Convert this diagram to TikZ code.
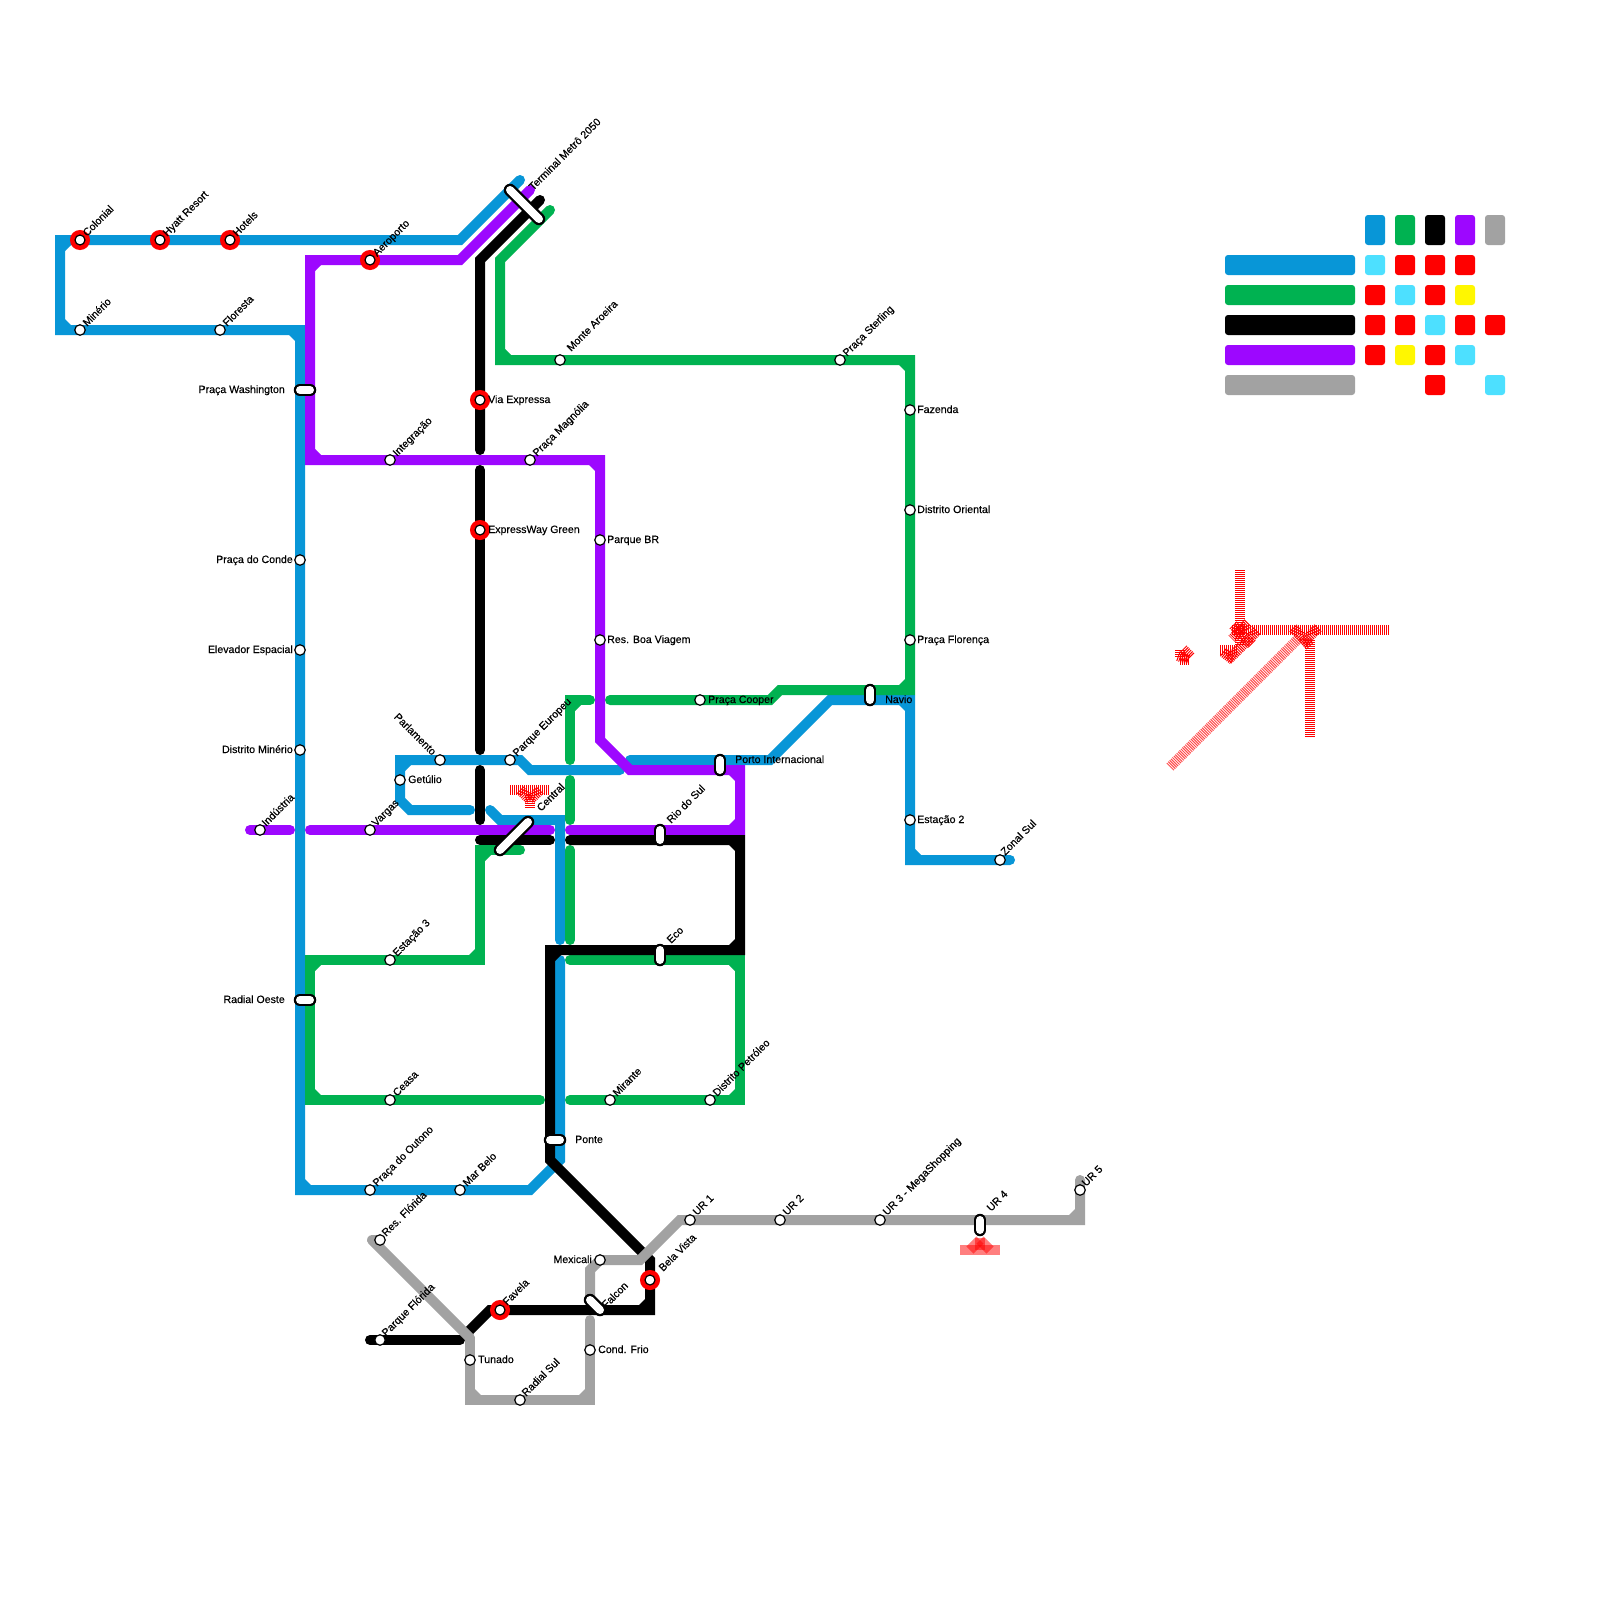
\documentclass[tikz,border=0pt]{standalone}
\usepackage{fontspec}
\setmainfont{Liberation Sans}[FakeBold=0.35]
\definecolor{lblue}{HTML}{0896D7}
\definecolor{lgreen}{HTML}{00B251}
\definecolor{lpurple}{HTML}{9D07FF}
\definecolor{lgray}{HTML}{A2A2A2}
\definecolor{lcyan}{HTML}{4DE0FF}
\definecolor{lyellow}{HTML}{FFF700}
\tikzset{
  mline/.style={line width=10pt,line cap=round,line join=miter,miter limit=4},
  stn/.style={circle,draw=black,line width=1.2pt,fill=white,minimum size=10.5pt,inner sep=0pt},
  hub/.style={circle,draw=red,line width=5pt,fill=white,minimum size=15pt,inner sep=0pt},
  hubin/.style={circle,draw=black,line width=1.2pt,fill=white,minimum size=10pt,inner sep=0pt},
  pillb/.style={line width=12.5pt,line cap=round,black},
  pillw/.style={line width=8pt,line cap=round,white},
  lab/.style={inner sep=0pt,font=\fontsize{10.6}{12}\selectfont},
  labr/.style={lab,anchor=base west,rotate=45},
  labh/.style={lab,anchor=base west},
  labl/.style={lab,anchor=base east},
  labm/.style={lab,anchor=base east,rotate=-45},
  hatch/.style={red,line width=10pt,dash pattern=on 1pt off 1pt},
  lsq/.style={rounded corners=3pt,draw=none},
}
\newcommand\cham[4]{\fill ({#1+5*(#3)},{#2+5*(#4)}) -- ({#1+11*(#3)},{#2+5*(#4)}) -- ({#1+5*(#3)},{#2+11*(#4)}) -- cycle;}
\newcommand\pill[5]{\coordinate (#1-a) at (#2,#3);\coordinate (#1-b) at (#4,#5);
  \draw[pillb] (#1-a) -- (#1-b);\draw[pillw] (#1-a) -- (#1-b);}
\newcommand\lsquare[4]{\fill[lsq,#1] (#2,#3) rectangle ++(20,#4);}
\begin{document}
\begin{tikzpicture}[x=1pt,y=-1pt]
\useasboundingbox (0,0) rectangle (1600,1600);
\fill[white] (0,0) rectangle (1600,1600);
% station positions
\foreach \n/\x/\y in {colonial/80/240,hyatt/160/240,hoteis/230/240,minerio/80/330,floresta/220/330,
  conde/300/560,elevador/300/650,dminerio/300/750,outono/370/1190,marbelo/460/1190,
  parlamento/440/760,peuropeu/510/760,getulio/400/780,estacao2/910/820,zonal/1000/860,
  aeroporto/370/260,integracao/390/460,magnolia/530/460,parquebr/600/540,boaviagem/600/640,
  industria/260/830,vargas/370/830,
  aroeira/560/360,sterling/840/360,fazenda/910/410,doriental/910/510,florenca/910/640,cooper/700/700,
  ceasa/390/1100,estacao3/390/960,mirante/610/1100,dpetroleo/710/1100,
  viaexp/480/400,expgreen/480/530,favela/500/1310,belavista/650/1280,pflorida/380/1340,
  resflorida/380/1240,tunado/470/1360,radialsul/520/1400,condfrio/590/1350,mexicali/600/1260,
  ur1/690/1220,ur2/780/1220,ur3/880/1220,ur5/1080/1190}
  {\coordinate (\n) at (\x,\y);}
% blue line
\begin{scope}[lblue]
\draw[mline] (520,180) -- (460,240) -- (hoteis) -- (hyatt) -- (colonial) -- (60,240) -- (60,330) -- (minerio) -- (floresta) -- (300,330) -- (conde) -- (elevador) -- (dminerio) -- (300,1190) -- (outono) -- (marbelo) -- (530,1190) -- (560,1160) -- (560,960);
\draw[mline] (620,770) -- (530,770) -- (520,760) -- (peuropeu) -- (parlamento) -- (400,760) -- (getulio) -- (400,800) -- (410,810) -- (470,810);
\draw[mline] (490,810) -- (500,820) -- (560,820) -- (560,940);
\draw[mline] (630,760) -- (770,760) -- (830,700) -- (910,700) -- (estacao2) -- (910,860) -- (zonal) -- (1010,860);
\cham{60}{240}{1}{1}\cham{60}{330}{1}{-1}\cham{300}{330}{-1}{1}\cham{300}{1190}{1}{-1}
\cham{400}{760}{1}{1}\cham{910}{860}{1}{-1}\cham{910}{700}{-1}{1}
\end{scope}
% green line
\begin{scope}[lgreen]
\draw[mline] (550,210) -- (500,260) -- (500,360) -- (aroeira) -- (sterling) -- (910,360) -- (fazenda) -- (doriental) -- (florenca) -- (910,690) -- (780,690) -- (770,700) -- (cooper) -- (610,700);
\draw[mline] (590,700) -- (570,700) -- (570,760);
\draw[mline] (570,780) -- (570,820);
\draw[mline] (570,850) -- (570,940);
\draw[mline] (520,850) -- (480,850) -- (480,960) -- (estacao3) -- (310,960) -- (310,1100) -- (ceasa) -- (540,1100);
\draw[mline] (570,960) -- (740,960) -- (740,1100) -- (dpetroleo) -- (mirante) -- (570,1100);
\cham{500}{360}{1}{-1}\cham{910}{360}{-1}{1}\cham{910}{690}{-1}{-1}\cham{570}{700}{1}{1}
\cham{480}{850}{1}{1}\cham{480}{960}{-1}{-1}\cham{310}{960}{1}{1}\cham{310}{1100}{1}{-1}
\cham{740}{960}{-1}{1}\cham{740}{1100}{-1}{-1}
\end{scope}
% purple line
\begin{scope}[lpurple]
\draw[mline] (530,190) -- (460,260) -- (aeroporto) -- (310,260) -- (310,460) -- (integracao) -- (magnolia) -- (600,460) -- (parquebr) -- (boaviagem) -- (600,740) -- (630,770) -- (740,770) -- (740,830) -- (570,830);
\draw[mline] (250,830) -- (industria) -- (290,830);
\draw[mline] (310,830) -- (vargas) -- (550,830);
\cham{310}{260}{1}{1}\cham{310}{460}{1}{-1}\cham{600}{460}{-1}{1}\cham{740}{770}{-1}{1}\cham{740}{830}{-1}{-1}
\end{scope}
% black line
\begin{scope}[black]
\draw[mline] (540,200) -- (480,260) -- (viaexp) -- (480,450);
\draw[mline] (480,470) -- (expgreen) -- (480,750);
\draw[mline] (480,770) -- (480,820);
\draw[mline] (480,840) -- (550,840);
\draw[mline] (570,840) -- (740,840) -- (740,950) -- (550,950) -- (550,1160) -- (650,1260) -- (belavista) -- (650,1310) -- (favela) -- (490,1310) -- (465,1335);
\draw[mline] (370,1340) -- (pflorida) -- (460,1340);
\cham{740}{840}{-1}{1}\cham{740}{950}{-1}{-1}\cham{550}{950}{1}{1}\cham{650}{1310}{-1}{-1}
\end{scope}
% gray line
\begin{scope}[lgray]
\draw[mline,line join=round] (resflorida) -- (372,1240) -- (470,1338);
\draw[mline] (470,1338) -- (tunado) -- (470,1400) -- (radialsul) -- (590,1400) -- (condfrio) -- (590,1320);
\draw[mline] (590,1300) -- (590,1270) -- (mexicali) -- (640,1260) -- (680,1220) -- (ur1) -- (ur2) -- (ur3) -- (1080,1220) -- (ur5) -- (1080,1180);
\cham{470}{1400}{1}{-1}\cham{590}{1400}{-1}{-1}\cham{1080}{1220}{-1}{-1}
\end{scope}
% red marks
\draw[hatch] (1240,570) -- (1240,625);
\draw[hatch] (1250,630) -- (1389,630);
\draw[hatch] (1310,640) -- (1310,738);
\draw[hatch,opacity=.7] (1170,767) -- (1300,637);
\draw[hatch] (1293,628) -- (1310,646);
\draw[hatch] (1318,628) -- (1302,644);
\draw[hatch] (1257,631) -- (1228,660);
\draw[hatch] (1233,625) -- (1252,644);
\draw[hatch] (1248,623) -- (1232,639);
\draw[hatch] (1232,630) -- (1255,630);
\draw[hatch] (1240,622) -- (1240,645);
\draw[hatch] (1220,650) -- (1237,650);
\draw[hatch] (1223,652) -- (1233,660);
\draw[hatch] (1180,650) -- (1180,658);
\draw[hatch] (1180,660) -- (1189,660);
\draw[hatch] (1178,656) -- (1189,660);
\draw[hatch] (1183,649) -- (1191,657);
\draw[hatch] (510,790) -- (549,790);
\draw[hatch] (530,795) -- (530,808);
\draw[hatch] (520,790) -- (530,800);
\draw[hatch] (540,790) -- (530,800);
\fill[red,opacity=.5] (960,1245) rectangle (1000,1255);
\draw[red,line width=10pt,opacity=.5] (980,1240) -- (970,1250);
\draw[red,line width=10pt,opacity=.5] (980,1240) -- (990,1250);
\draw[red,line width=10pt,opacity=.5] (980,1238) -- (980,1250);
% interchange bars
\pill{washington}{300}{390}{310}{390}
\pill{radialoeste}{300}{1000}{310}{1000}
\pill{terminal}{510}{190}{539}{219}
\pill{central}{500}{850}{528}{822}
\pill{riosul}{660}{830}{660}{840}
\pill{eco}{660}{950}{660}{960}
\pill{porto}{720}{760}{720}{770}
\pill{navio}{870}{690}{870}{700}
\pill{ponte}{550}{1140}{560}{1140}
\pill{falcon}{590}{1300}{600}{1310}
\pill{urfour}{980}{1220}{980}{1230}
% stations
\foreach \n in {minerio,floresta,conde,elevador,dminerio,outono,marbelo,parlamento,peuropeu,getulio,estacao2,zonal,
  integracao,magnolia,parquebr,boaviagem,industria,vargas,aroeira,sterling,fazenda,doriental,florenca,cooper,
  ceasa,estacao3,mirante,dpetroleo,pflorida,resflorida,tunado,radialsul,condfrio,mexicali,ur1,ur2,ur3,ur5}
  {\node[stn] (\n-st) at (\n) {};}
\foreach \n in {colonial,hyatt,hoteis,aeroporto,viaexp,expgreen,favela,belavista}
  {\node[hub] (\n-st) at (\n) {};\node[hubin] (\n-in) at (\n) {};}
% labels
\foreach \n/\dx/\dy/\t in {
  colonial/7/-3/Colonial,hyatt/7/-3/Hyatt Resort,hoteis/7/-3/Hotels,aeroporto/7/-3/Aeroporto,
  minerio/7/-3/Minério,floresta/7/-3/Floresta,integracao/7/-3/Integração,magnolia/7/-3/Praça Magnólia,
  aroeira/11/-8/Monte Aroeira,sterling/7/-3/Praça Sterling,peuropeu/7/-3/Parque Europeu,
  vargas/6/-3/Vargas,industria/6/-3/Indústria,estacao3/7/-3/Estação 3,ceasa/7/-3/Ceasa,
  mirante/7/-3/Mirante,dpetroleo/7/-3/Distrito Petróleo,outono/7/-3/Praça do Outono,marbelo/7/-3/Mar Belo,
  resflorida/6/-3/Res. Flórida,pflorida/6/-3/Parque Flórida,favela/7/-4/Favela,belavista/13/-8/Bela Vista,
  radialsul/6/-3/Radial Sul,ur1/7/-4/UR 1,ur2/7/-4/UR 2,ur3/7/-4/UR 3 - MegaShopping,ur5/6/-3/UR 5,zonal/5/-4/Zonal Sul}
  {\node[labr] (\n-l) at ([shift={(\dx,\dy)}]\n) {\t};}
\node[labr] (terminal-l) at (533,191) {Terminal Metrô 2050};
\node[labr] (central-l) at (541,812) {Central};
\node[labr] (riosul-l) at (671,824) {Rio do Sul};
\node[labr] (eco-l) at (671,944) {Eco};
\node[labr] (falcon-l) at (606,1309) {Falcon};
\node[labr] (urfour-l) at (991,1212) {UR 4};
\node[labm] (parlamento-l) at ([shift={(-8,-4)}]parlamento) {Parlamento};
\foreach \n/\dx/\dy/\t in {viaexp/8/3/Via Expressa,expgreen/8/3/ExpressWay Green,getulio/8/3/Getúlio,
  parquebr/7/3/Parque BR,boaviagem/7/3/Res. Boa Viagem,fazenda/7/3/Fazenda,doriental/7/3/Distrito Oriental,
  florenca/7/3/Praça Florença,cooper/8/3/Praça Cooper,estacao2/7/3/Estação 2,tunado/8/3/Tunado,condfrio/8/3/Cond. Frio}
  {\node[labh] (\n-l) at ([shift={(\dx,\dy)}]\n) {\t};}
\node[labh] (porto-l) at (735,763) {Porto Internacional};
\node[labh] (navio-l) at (885,703) {Navio};
\node[labh] (ponte-l) at (575,1143) {Ponte};
\foreach \n/\t in {conde/Praça do Conde,elevador/Elevador Espacial,dminerio/Distrito Minério}
  {\node[labl] (\n-l) at ([shift={(-7,3)}]\n) {\t};}
\node[labl] (washington-l) at (285,393) {Praça Washington};
\node[labl] (radialoeste-l) at (285,1003) {Radial Oeste};
\node[labl] (mexicali-l) at (592,1263) {Mexicali};
% legend
\foreach \x/\c in {1365/lblue,1395/lgreen,1425/black,1455/lpurple,1485/lgray}
  {\fill[lsq,\c] (\x,215) rectangle ++(20,30);}
\foreach \y/\c in {255/lblue,285/lgreen,315/black,345/lpurple,375/lgray}
  {\fill[lsq,\c] (1225,\y) rectangle ++(130,20);}
\foreach \x/\y/\c in {1365/255/lcyan,1395/255/red,1425/255/red,1455/255/red,
  1365/285/red,1395/285/lcyan,1425/285/red,1455/285/lyellow,
  1365/315/red,1395/315/red,1425/315/lcyan,1455/315/red,1485/315/red,
  1365/345/red,1395/345/lyellow,1425/345/red,1455/345/lcyan,
  1425/375/red,1485/375/lcyan}
  {\lsquare{\c}{\x}{\y}{20}}
\end{tikzpicture}
\end{document}
